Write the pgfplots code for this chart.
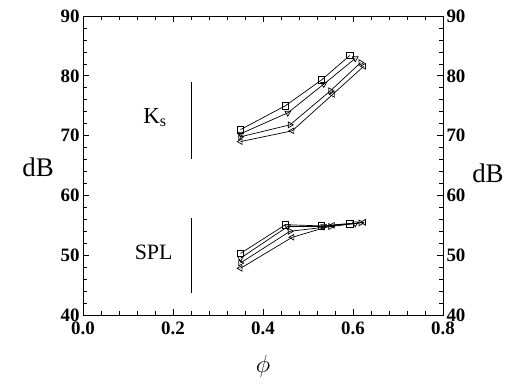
\documentclass[border=0pt]{standalone}
\usepackage{pgfplots}
\pgfplotsset{compat=1.18}
\usepackage{fontspec}
\setmainfont{Liberation Serif}

\pgfplotsset{
  base/.style={
    scale only axis,
    width=360bp, height=299bp,
    at={(83bp,73bp)}, anchor=south west,
    xmin=0, xmax=0.8, ymin=40, ymax=90,
    tick align=inside,
    major tick length=6bp, minor tick length=3.5bp,
    tick style={black, line width=0.6bp},
    axis line style={line width=0.8bp},
    /pgf/number format/assume math mode=true,
    ticklabel style={font=\fontsize{19}{19}\selectfont\bfseries},
    ytick={40,50,...,90},
    minor ytick={42,44,...,88},
  },
  ser/.style={black, line width=0.7bp, mark size=3.3bp,
    mark options={solid, fill=white, line width=0.6bp}},
}

\begin{document}
\begin{tikzpicture}
\useasboundingbox (0,0) rectangle (522bp,388bp);

\begin{axis}[base,
  xtick={0,0.2,...,0.8},
  minor xtick={0.04,0.08,...,0.78},
  xticklabel style={yshift=-3bp, /pgf/number format/.cd, fixed, fixed zerofill, precision=1},
  xlabel={$\phi$},
  xlabel style={font=\fontsize{25}{25}\selectfont, yshift=-14bp},
  ylabel={dB},
  ylabel style={rotate=-90, font=\fontsize{27}{27}\selectfont, yshift=-2bp},
  ytick pos=both, yticklabel pos=left,
  xtick pos=both, xticklabel pos=bottom,
  clip=false,
]
% K_s curves
\addplot[ser, mark=square] coordinates {(0.35,71.0) (0.45,75.0) (0.53,79.3) (0.593,83.4)};
\addplot[ser, mark=triangle, mark options={rotate=180}] coordinates {(0.35,70.3) (0.455,73.8) (0.535,78.6) (0.605,82.9)};
\addplot[ser, mark=triangle, mark options={rotate=-90}] coordinates {(0.35,69.8) (0.46,71.8) (0.55,77.5) (0.617,82.2)};
\addplot[ser, mark=triangle, mark options={rotate=90}] coordinates {(0.35,69.0) (0.465,70.8) (0.555,76.9) (0.624,81.6)};
% SPL curves
\addplot[ser, mark=square] coordinates {(0.35,50.3) (0.45,55.1) (0.53,54.9) (0.593,55.3)};
\addplot[ser, mark=triangle, mark options={rotate=180}] coordinates {(0.35,49.5) (0.455,54.8) (0.535,54.8) (0.605,55.3)};
\addplot[ser, mark=triangle, mark options={rotate=-90}] coordinates {(0.35,48.7) (0.46,54.0) (0.55,54.8) (0.617,55.4)};
\addplot[ser, mark=triangle, mark options={rotate=90}] coordinates {(0.35,47.8) (0.465,53.0) (0.555,55.0) (0.624,55.5)};
% group brackets
\addplot[black, line width=0.9bp] coordinates {(0.24,79.0) (0.24,66.1)};
\addplot[black, line width=0.9bp] coordinates {(0.24,56.2) (0.24,43.7)};
\node[font=\fontsize{23}{23}\selectfont] at (axis cs:0.16,73) {K\textsubscript{s}};
\node[font=\fontsize{22}{22}\selectfont] at (axis cs:0.157,50.4) {SPL};
\end{axis}

\begin{axis}[base,
  axis x line=none,
  axis y line*=right,
  ytick pos=right, yticklabel pos=right,
  ylabel={dB},
  ylabel style={rotate=-90, font=\fontsize{27}{27}\selectfont, yshift=-8bp},
]
\end{axis}
\end{tikzpicture}
\end{document}
